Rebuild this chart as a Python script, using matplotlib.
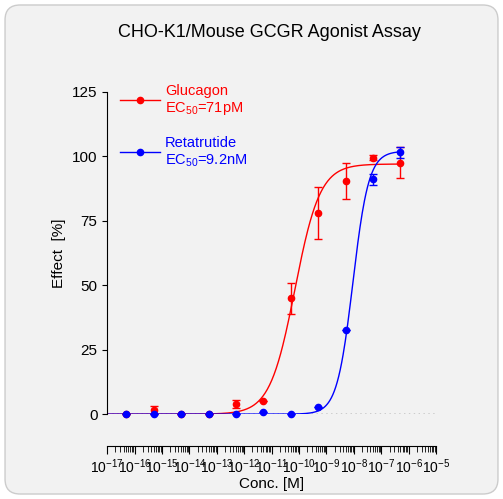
import numpy as np
import matplotlib.pyplot as plt
from matplotlib.patches import FancyBboxPatch
from matplotlib.ticker import LogLocator, FixedLocator

plt.rcParams['font.family'] = ['Liberation Sans', 'DejaVu Sans']
plt.rcParams['mathtext.fontset'] = 'custom'
plt.rcParams['mathtext.rm'] = 'Liberation Sans'

conc = [5e-17, 5e-16, 5e-15, 5e-14, 5e-13, 5e-12, 5e-11, 5e-10, 5e-9, 5e-8, 5e-7]
glu = [0, 1.5, 0, 0, 4, 5, 45, 78, 90.5, 99.5, 97.5]
glu_err = [0, 1.5, 0, 0, 1.5, 0, 6, 10, 7, 1, 6]
ret = [0, 0, 0, 0, 0, 0.7, 0, 2.7, 32.5, 91, 101.5]
ret_err = [0, 0, 0, 0, 0, 0, 0, 0, 0, 2, 2]
glu_fit = dict(bottom=0, top=97, ec50=7.1e-11, hill=0.95)
ret_fit = dict(bottom=0, top=102, ec50=9.2e-9, hill=1.5)

def curve(x, p):
    return p['bottom'] + (p['top'] - p['bottom']) / (1 + (p['ec50'] / x) ** p['hill'])

fig = plt.figure(figsize=(5.03, 4.99), dpi=100)
fig.patch.set_facecolor('white')
fig.patches.append(FancyBboxPatch((0.01, 0.01), 0.98, 0.98, boxstyle='round,pad=0,rounding_size=0.03',
                                  transform=fig.transFigure, facecolor='#f2f2f2', edgecolor='#cccccc', lw=1, zorder=-10))
ax = fig.add_axes([0.213, 0.170, 0.654, 0.646])
ax.set_facecolor('none')
xs = np.logspace(-17, -6.3, 400)
ax.axhline(0, color='#333333', ls=(0, (1, 2.5)), lw=1, zorder=0)
for y, e, p, c in [(glu, glu_err, glu_fit, '#ff0000'), (ret, ret_err, ret_fit, '#0000ff')]:
    ax.plot(xs, curve(xs, p), color=c, lw=1)
    ax.errorbar(conc, y, yerr=e, fmt='o', color=c, ms=4.5, capsize=3, elinewidth=1, clip_on=False)
ax.set_xscale('log')
ax.set_xlim(1e-17, 1e-5)
ax.set_ylim(0, 125)
ax.set_yticks([0, 25, 50, 75, 100, 125])
ax.xaxis.set_major_locator(FixedLocator([10.0 ** k for k in range(-17, -4)]))
ax.xaxis.set_minor_locator(LogLocator(base=10, subs=np.arange(2, 10), numticks=50))
ax.set_xticklabels(['$10^{%d}$' % k for k in range(-17, -4)], fontsize=9.5)
ax.tick_params(axis='x', which='major', length=6, pad=2)
ax.tick_params(axis='x', which='minor', length=4)
ax.tick_params(axis='y', labelsize=11)
for s in ['top', 'right']:
    ax.spines[s].set_visible(False)
ax.spines['bottom'].set_position(('outward', 23))
ax.set_xlabel('Conc. [M]', fontsize=11, labelpad=1)
ax.set_ylabel('Effect  [%]', fontsize=11)
fig.text(0.535, 0.935, 'CHO-K1/Mouse GCGR Agonist Assay', ha='center', va='center', fontsize=13)
for yy, c, l1, l2 in [(0.80, '#ff0000', 'Glucagon', 'EC$_{50}$=71pM'), (0.695, '#0000ff', 'Retatrutide', 'EC$_{50}$=9.2nM')]:
    fig.lines.append(plt.Line2D([0.238, 0.318], [yy, yy], color=c, lw=1, transform=fig.transFigure))
    fig.lines.append(plt.Line2D([0.278], [yy], color=c, marker='o', ms=4.5, transform=fig.transFigure))
    fig.text(0.328, yy + 0.018, l1, color=c, fontsize=10.5, va='center')
    fig.text(0.328, yy - 0.017, l2, color=c, fontsize=10.5, va='center')
fig.savefig('out.png', dpi=100, facecolor=fig.get_facecolor())
